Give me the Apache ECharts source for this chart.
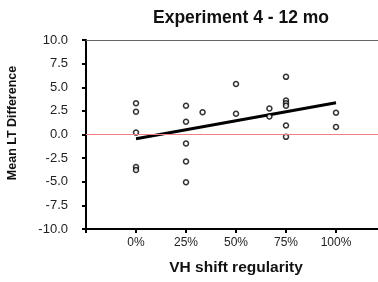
<!DOCTYPE html>
<html>
<head>
<meta charset="utf-8">
<script src="https://cdn.jsdelivr.net/npm/echarts@6/dist/echarts.min.js"></script>
<style>
  html, body { margin: 0; padding: 0; background: #fff; }
  #chart { width: 378px; height: 282px; }
</style>
</head>
<body>
<div id="chart"></div>
<script>
// data
const regularity = [0, 0, 0, 0, 0, 25, 25, 33.3, 25, 25, 25, 50, 50, 66.7, 66.7, 75, 75, 75, 75, 75, 75, 100, 100];
const ltDiff = [3.3, 2.4, 0.2, -3.45, -3.75, 3.05, 1.35, 2.35, -0.95, -2.85, -5.05, 5.35, 2.2, 2.75, 1.9, 6.1, 3.6, 3.3, 3.05, 0.95, -0.25, 2.3, 0.8];
const trendX = [0, 100];
const trendY = [-0.45, 3.35];
const xTicks = [0, 25, 50, 75, 100];

let mychart = echarts.init(document.getElementById('chart'));

mychart.setOption({
  animation: false,
  title: {
    text: 'Experiment 4 - 12 mo',
    left: 236,
    textAlign: 'center',
    top: 4,
    textStyle: { fontFamily: 'Liberation Sans', fontSize: 17.5, fontWeight: 'bold', color: '#111' }
  },
  // y axis title, placed by hand like the original
  graphic: [{
    type: 'text',
    x: 13,
    y: 123,
    rotation: Math.PI / 2,
    style: {
      text: 'Mean LT Difference',
      fontFamily: 'Liberation Sans',
      fontSize: 12.5,
      fontWeight: 'bold',
      fill: '#111',
      textAlign: 'center',
      textVerticalAlign: 'middle'
    }
  }],
  grid: { left: 86, top: 40, right: -8, bottom: 53, outerBoundsMode: 'none' },
  xAxis: [{
    type: 'value',
    min: -25,
    max: 125,
    interval: 25,
    name: 'VH shift regularity',
    nameLocation: 'middle',
    nameGap: 31,
    nameTextStyle: { fontFamily: 'Liberation Sans', fontSize: 15.5, fontWeight: 'bold', color: '#111' },
    axisLine: { onZero: false, lineStyle: { color: '#000', width: 2 } },
    axisTick: { show: true, length: 4, lineStyle: { color: '#000', width: 2 } },
    axisLabel: {
      margin: 8,
      fontFamily: 'Liberation Sans',
      fontSize: 12,
      color: '#222',
      formatter: v => xTicks.indexOf(v) >= 0 ? v + '%' : ''
    },
    splitLine: { show: false }
  }, {
    type: 'value',
    position: 'top',
    min: -25,
    max: 125,
    axisLine: { show: true, onZero: false, lineStyle: { color: '#666', width: 1 } },
    axisTick: { show: false },
    axisLabel: { show: false },
    splitLine: { show: false }
  }],
  yAxis: {
    type: 'value',
    min: -10,
    max: 10,
    interval: 2.5,
    axisLine: { show: true, onZero: false, lineStyle: { color: '#000', width: 2 } },
    axisTick: { show: true, length: 4, lineStyle: { color: '#000', width: 2 } },
    axisLabel: {
      margin: 18,
      fontFamily: 'Liberation Sans',
      fontSize: 13,
      color: '#222',
      formatter: v => v.toFixed(1)
    },
    splitLine: { show: false }
  },
  series: [
    {
      type: 'line',
      data: trendX.map((x, i) => [x, trendY[i]]),
      symbol: 'none',
      lineStyle: { color: '#000', width: 3 },
      markLine: {
        silent: true,
        symbol: 'none',
        label: { show: false },
        lineStyle: { color: '#f08080', width: 1, type: 'solid' },
        data: [{ yAxis: 0 }]
      },
      z: 2
    },
    {
      type: 'scatter',
      data: regularity.map((x, i) => [x, ltDiff[i]]),
      symbol: 'circle',
      symbolSize: 5,
      itemStyle: { color: '#fff', borderColor: '#000', borderWidth: 1.5 },
      z: 3
    }
  ]
});
</script>
</body>
</html>
